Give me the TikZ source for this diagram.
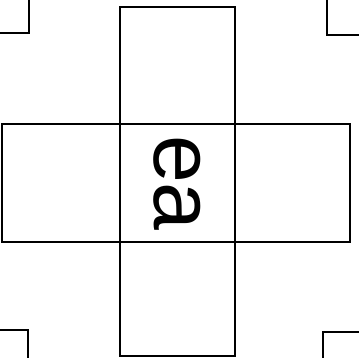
\documentclass[tikz,border=0pt]{standalone}
\usepackage{fontspec}
\setmainfont{Liberation Sans}
\usepackage{tikz}
\usetikzlibrary{calc}

\begin{document}
\begin{tikzpicture}[x=1pt,y=-1pt,line width=2.5pt]
    \tikzset{crossline/.style={draw=black,line join=miter},
      cropmark/.style={draw=black,line width=2.2pt}}
    \useasboundingbox (0,0) rectangle (359,358);
    \draw[crossline] (120,7) rectangle (235,356);
    \draw[crossline] (2,124) rectangle (350,242);
    \node[rotate=-90,inner sep=0pt,font=\fontsize{86}{86}\selectfont] (ea) at (177,183) {ea};
    \foreach \x/\y/\xe/\ye in {29/33/0/0,327/35/359/0,28/330/0/358,323/332/359/358}{\draw[cropmark] (\xe,\y) -- (\x,\y) -- (\x,\ye);}
  \end{tikzpicture}
\end{document}
